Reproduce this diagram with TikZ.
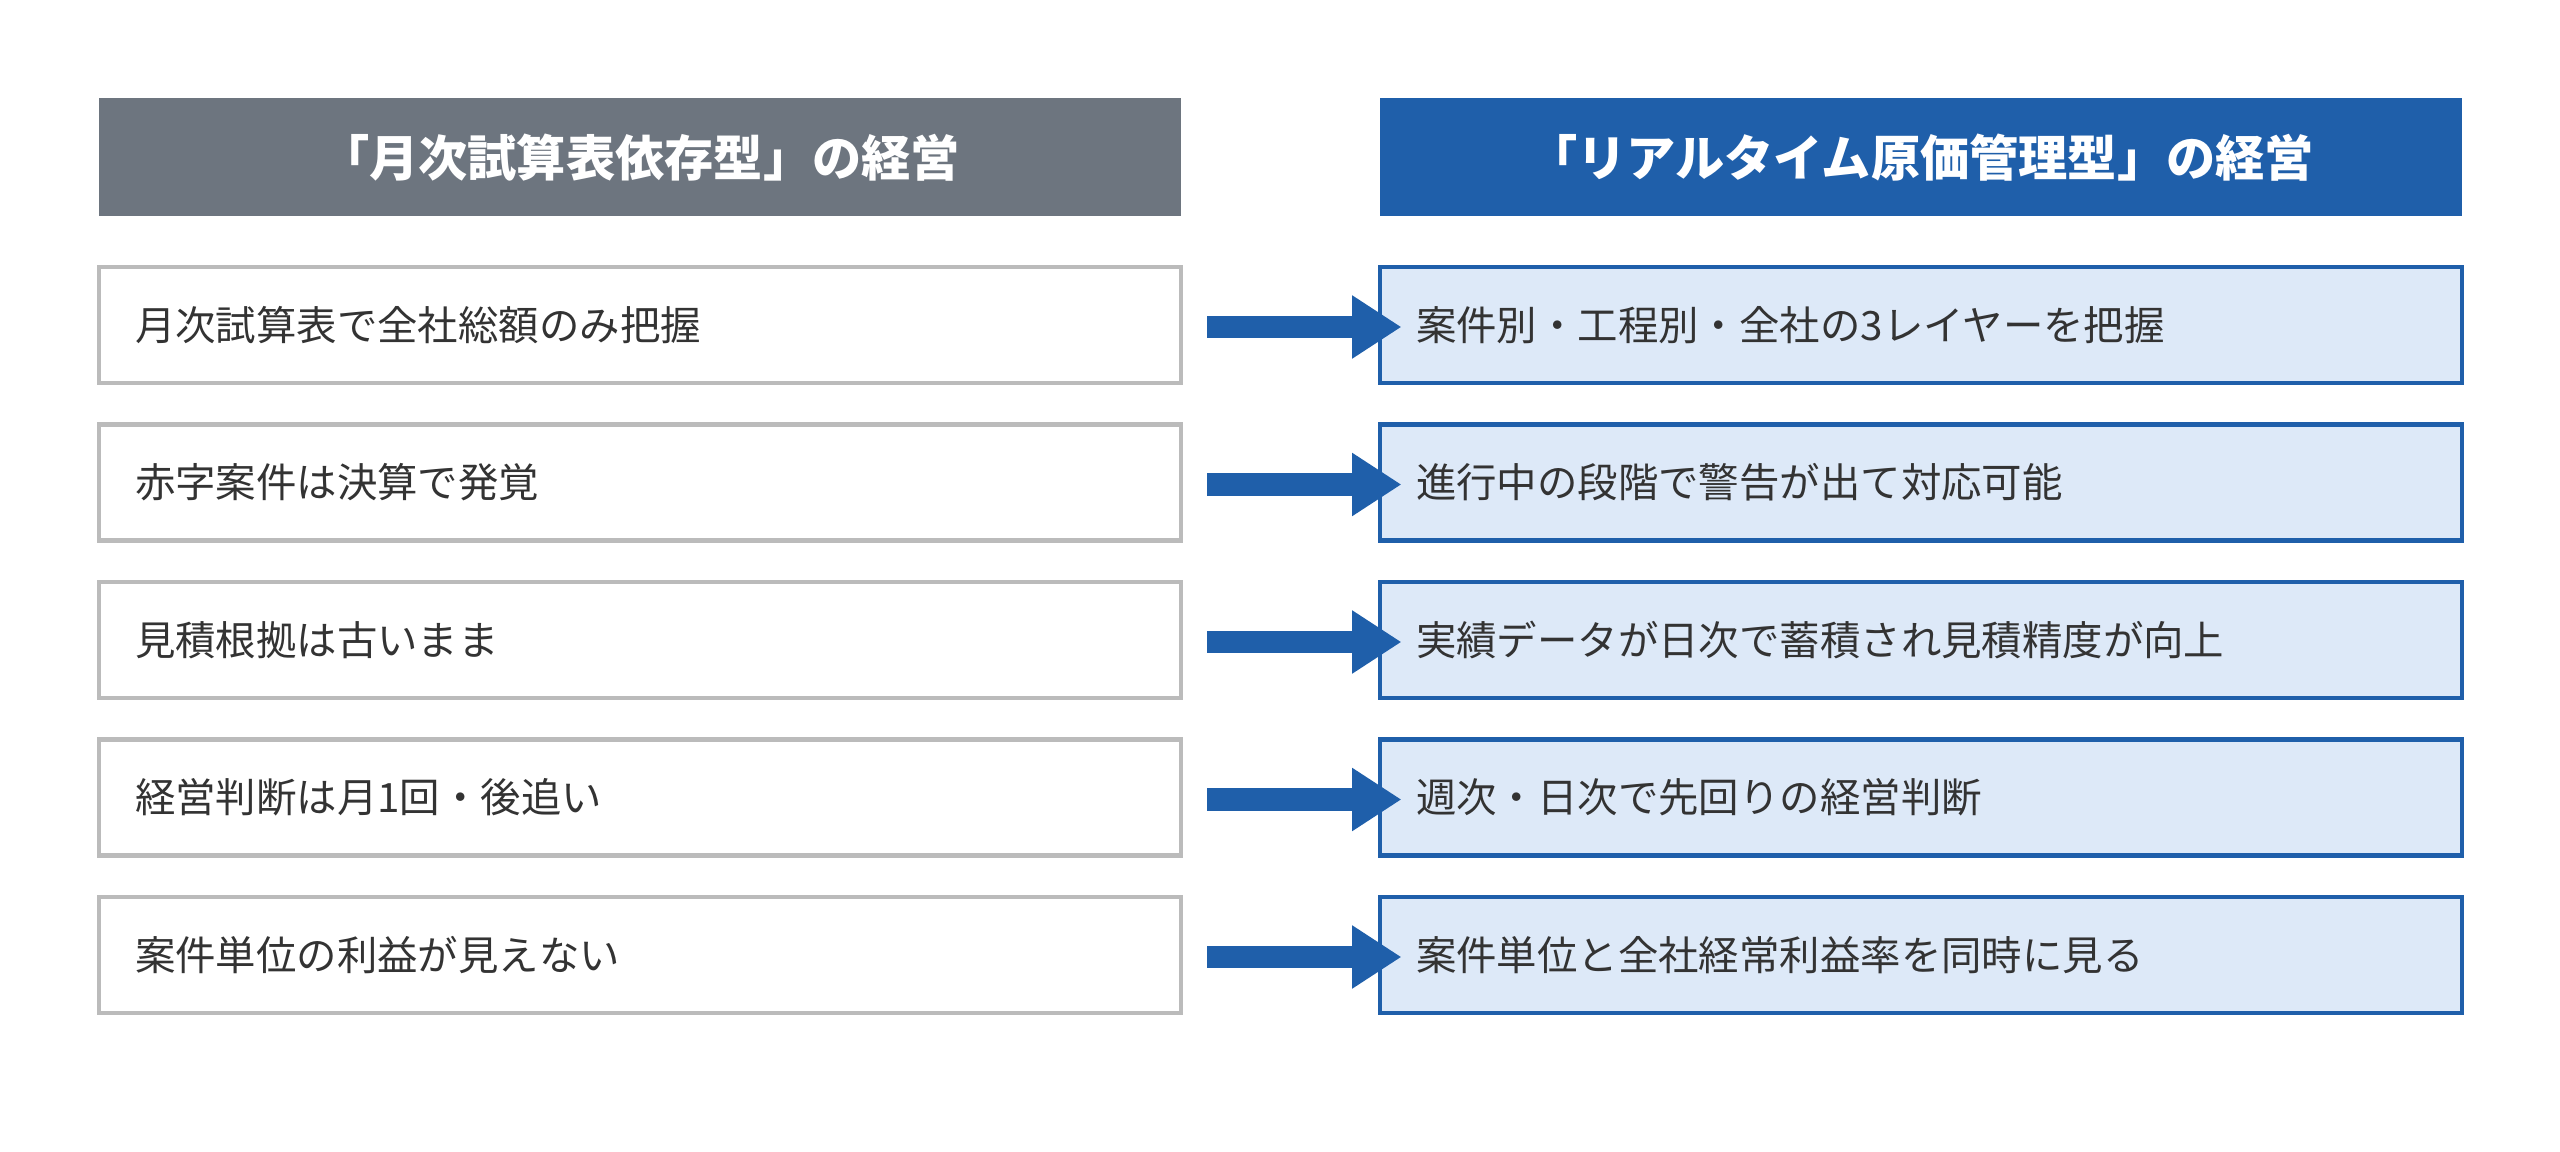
\documentclass[tikz,border=0pt]{standalone}
\usepackage{fontspec}
\setmainfont{Noto Sans CJK JP}
\usetikzlibrary{positioning}
\definecolor{hdgray}{HTML}{6D757F}
\definecolor{hdblue}{HTML}{1F5FAA}
\definecolor{boxfill}{HTML}{DDE9F8}
\definecolor{boxline}{HTML}{BBBBBB}
\definecolor{txt}{HTML}{333333}
\tikzset{
	header/.style={minimum width=10.82cm, minimum height=1.18cm, text=white, font=\fontsize{14}{16}\selectfont\bfseries, inner sep=0pt},
	oldbox/.style={draw=boxline, line width=1.2pt, fill=white, minimum width=10.82cm, minimum height=1.16cm, text width=10.1cm, align=left, text=txt, font=\fontsize{11.5}{13}\selectfont},
	newbox/.style={oldbox, draw=hdblue, fill=boxfill},
	flow/.style={line width=6.5pt, draw=hdblue, -{Triangle[length=14pt, width=17pt, fill=hdblue]}, shorten >=-1pt}
}
\usetikzlibrary{arrows.meta}
\begin{document}
\begin{tikzpicture}
	\useasboundingbox (0, 0) rectangle (25.6, -11.52);
	
	\node[header, fill=hdgray] (H1) at (6.40, -1.575) {「月次試算表依存型」の経営};
	\node[header, fill=hdblue] (H2) at (19.21, -1.575) {「リアルタイム原価管理型」の経営};
	
	\node[oldbox] (L1) at (6.40, -3.25) {月次試算表で全社総額のみ把握};
	\node[oldbox] (L2) at (6.40, -4.825) {赤字案件は決算で発覚};
	\node[oldbox] (L3) at (6.40, -6.40) {見積根拠は古いまま};
	\node[oldbox] (L4) at (6.40, -7.975) {経営判断は月1回・後追い};
	\node[oldbox] (L5) at (6.40, -9.55) {案件単位の利益が見えない};
	
	\node[newbox] (R1) at (19.21, -3.25) {案件別・工程別・全社の3レイヤーを把握};
	\node[newbox] (R2) at (19.21, -4.825) {進行中の段階で警告が出て対応可能};
	\node[newbox] (R3) at (19.21, -6.40) {実績データが日次で蓄積され見積精度が向上};
	\node[newbox] (R4) at (19.21, -7.975) {週次・日次で先回りの経営判断};
	\node[newbox] (R5) at (19.21, -9.55) {案件単位と全社経常利益率を同時に見る};
	
	\foreach \i in {1,...,5} {
		\coordinate (A\i) at ([xshift=0.24cm, yshift=-0.02cm]L\i.east);
		\coordinate (B\i) at ([xshift=0.20cm, yshift=-0.02cm]R\i.west);
		\draw[flow] (A\i) -- (B\i);
	}
\end{tikzpicture}
\end{document}
